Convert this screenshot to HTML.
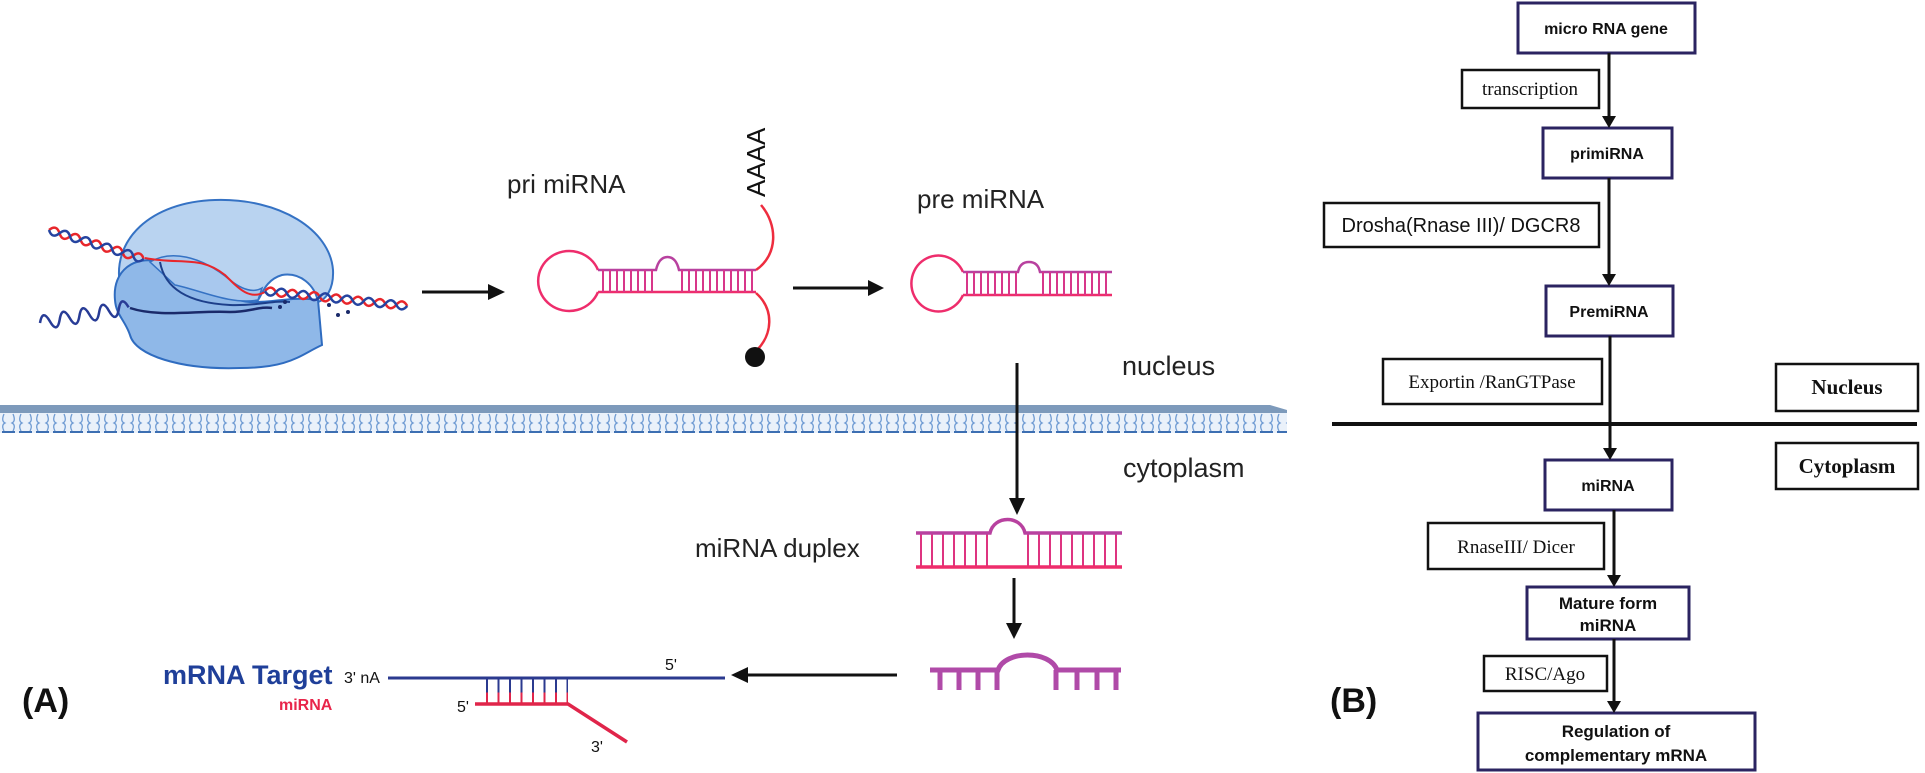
<!DOCTYPE html>
<html><head><meta charset="utf-8">
<style>
html,body{margin:0;padding:0;background:#fff;}
svg{display:block;}
</style></head>
<body>
<svg width="1925" height="773" viewBox="0 0 1925 773" xmlns="http://www.w3.org/2000/svg">
<defs>
<pattern id="mem" x="0" y="412" width="17" height="21" patternUnits="userSpaceOnUse">
<rect width="17" height="21" fill="#eaf1fa"/>
<path d="M4 2 Q1 9 5 11 Q1 13 4 19 M13 2 Q16 9 12 11 Q16 13 13 19" stroke="#6f9bd3" stroke-width="1.3" fill="none"/>
<path d="M2 20 H15" stroke="#3d6fb2" stroke-width="2"/>
</pattern>
</defs>

<!-- Polymerase -->
<path d="M120 285 C112 240 150 202 215 200 C280 198 330 230 333 270 C334 290 325 300 318 302 C315 285 300 272 282 275 C265 280 262 295 258 300 L200 300 Z" fill="#b9d3f0" stroke="#3572c4" stroke-width="2"/>
<path d="M115 300 C112 270 135 255 160 262 C190 270 220 300 250 302 C275 303 290 296 318 300 L322 345 C300 355 290 368 240 368 C180 370 135 355 130 335 C125 320 116 315 115 300 Z" fill="#8fb8e8" stroke="#2f6cc0" stroke-width="2"/>
<path d="M150 262 C170 250 200 255 230 280 C245 292 255 292 262 288 L258 300 C230 305 200 290 175 285 Z" fill="#a8c8ee" stroke="#3572c4" stroke-width="1.5"/>
<path d="M160 262 C165 290 190 303 230 305 C260 306 272 300 290 302" fill="none" stroke="#1d3f8a" stroke-width="2"/>
<g transform="translate(49,230) rotate(17)">
<path d="M0 0 q5.5 -8 11 0 t11 0 t11 0 t11 0 t11 0 t11 0 t11 0 t11 0 t11 0" fill="none" stroke="#e8262b" stroke-width="2.5"/>
<path d="M0 0 q5.5 8 11 0 t11 0 t11 0 t11 0 t11 0 t11 0 t11 0 t11 0 t11 0" fill="none" stroke="#2544a0" stroke-width="2.5"/>
</g>
<path d="M145 258 C180 265 200 255 225 275 C240 290 250 300 265 292" fill="none" stroke="#e8262b" stroke-width="2"/>
<g transform="translate(265,291) rotate(6)">
<path d="M0 0 q5.5 -8 11 0 t11 0 t11 0 t11 0 t11 0 t11 0 t11 0 t11 0 t11 0 t11 0 t11 0 t11 0 t11 0" fill="none" stroke="#e8262b" stroke-width="2.5"/>
<path d="M0 0 q5.5 8 11 0 t11 0 t11 0 t11 0 t11 0 t11 0 t11 0 t11 0 t11 0 t11 0 t11 0 t11 0 t11 0" fill="none" stroke="#2544a0" stroke-width="2.5"/>
</g>
<g transform="translate(40,323) rotate(-10)">
<path d="M0 0 q5 -14 10 0 t10 0 t10 0 t10 0 t10 0 t10 0 t10 0 t10 0 t10 0" fill="none" stroke="#283c96" stroke-width="2.5"/>
</g>
<path d="M130 308 C160 318 200 310 230 312 C250 312 260 306 272 308" fill="none" stroke="#1a2a6a" stroke-width="2.5"/>
<g fill="#1a2a6a"><circle cx="280" cy="307" r="2"/><circle cx="285" cy="302" r="2"/><circle cx="329" cy="305" r="2"/><circle cx="338" cy="315" r="2"/><circle cx="348" cy="312" r="2"/></g>

<line x1="422" y1="292" x2="490" y2="292" stroke="#111" stroke-width="3"/>
<polygon points="488,284 505,292 488,300" fill="#111"/>

<text x="507" y="193" font-family="Liberation Sans, sans-serif" font-size="26" fill="#222">pri miRNA</text>
<path d="M598 270 A31 30 0 1 0 598 292" fill="none" stroke="#ee2d6c" stroke-width="2.5"/>
<path d="M598 270 L656 270 Q659 257 667.5 257 Q676 257 679 270 L756 270" fill="none" stroke="#b8419f" stroke-width="2.5"/>
<line x1="598" y1="292" x2="756" y2="292" stroke="#ee2d6c" stroke-width="2.5"/>
<line x1="602" y1="281" x2="655" y2="281" stroke="#d8368a" stroke-width="22" stroke-dasharray="2 5"/>
<line x1="681" y1="281" x2="756" y2="281" stroke="#d8368a" stroke-width="22" stroke-dasharray="2 5"/>
<text transform="translate(765,197) rotate(-90)" font-family="Liberation Sans, sans-serif" font-size="26" fill="#111">AAAA</text>
<path d="M761 205 C778 225 778 255 756 270" fill="none" stroke="#ee2d3f" stroke-width="2.5"/>
<path d="M756 293 C775 310 772 335 757 350" fill="none" stroke="#ee2d3f" stroke-width="2.5"/>
<circle cx="755" cy="357" r="10" fill="#111"/>

<line x1="793" y1="288" x2="870" y2="288" stroke="#111" stroke-width="3"/>
<polygon points="868,280 884,288 868,296" fill="#111"/>

<text x="917" y="208" font-family="Liberation Sans, sans-serif" font-size="26" fill="#222">pre miRNA</text>
<path d="M963 272 A27 28 0 1 0 963 295" fill="none" stroke="#ee2d6c" stroke-width="2.5"/>
<path d="M963 272 L1018 272 Q1020 262 1029 262 Q1038 262 1040 272 L1112 272" fill="none" stroke="#b8419f" stroke-width="2.5"/>
<line x1="963" y1="295" x2="1112" y2="295" stroke="#ee2d6c" stroke-width="2.5"/>
<line x1="966" y1="283.5" x2="1018" y2="283.5" stroke="#d8368a" stroke-width="23" stroke-dasharray="2 5"/>
<line x1="1042" y1="283.5" x2="1112" y2="283.5" stroke="#d8368a" stroke-width="23" stroke-dasharray="2 5"/>

<text x="1122" y="375" font-family="Liberation Sans, sans-serif" font-size="27" fill="#222">nucleus</text>
<text x="1123" y="477" font-family="Liberation Sans, sans-serif" font-size="27" fill="#222">cytoplasm</text>

<rect x="0" y="412" width="1287" height="21" fill="url(#mem)"/>
<path d="M0 405 L1270 405 L1287 410 L1287 413 L0 413 Z" fill="#7d9abb"/>

<line x1="1017" y1="363" x2="1017" y2="500" stroke="#111" stroke-width="3"/>
<polygon points="1009,498 1017,515 1025,498" fill="#111"/>

<text x="695" y="557" font-family="Liberation Sans, sans-serif" font-size="26" fill="#222">miRNA duplex</text>
<line x1="920" y1="550" x2="990" y2="550" stroke="#de3480" stroke-width="33" stroke-dasharray="2 9"/>
<line x1="1027" y1="550" x2="1122" y2="550" stroke="#de3480" stroke-width="33" stroke-dasharray="2 9"/>
<path d="M916 533 L990 533 C994 515 1021 515 1025 533 L1122 533" fill="none" stroke="#b8419f" stroke-width="3.5"/>
<line x1="916" y1="567" x2="1122" y2="567" stroke="#ee2d6c" stroke-width="3.5"/>

<line x1="1014" y1="578" x2="1014" y2="625" stroke="#111" stroke-width="3"/>
<polygon points="1006,623 1014,639 1022,623" fill="#111"/>

<path d="M930 670 L998 670 C1005 650 1050 650 1057 670 L1121 670" fill="none" stroke="#b04aa8" stroke-width="5"/>
<g stroke="#b04aa8" stroke-width="5">
<line x1="940" y1="670" x2="940" y2="690"/><line x1="959" y1="670" x2="959" y2="690"/><line x1="978" y1="670" x2="978" y2="690"/><line x1="997" y1="670" x2="997" y2="690"/>
<line x1="1056" y1="670" x2="1056" y2="690"/><line x1="1077" y1="670" x2="1077" y2="690"/><line x1="1097" y1="670" x2="1097" y2="690"/><line x1="1116" y1="670" x2="1116" y2="690"/>
</g>

<line x1="897" y1="675" x2="745" y2="675" stroke="#111" stroke-width="3"/>
<polygon points="748,667 731,675 748,683" fill="#111"/>

<text x="163" y="684" font-family="Liberation Sans, sans-serif" font-size="27" font-weight="bold" fill="#1f3f99">mRNA Target</text>
<text x="344" y="683" font-family="Liberation Sans, sans-serif" font-size="16" fill="#111">3' nA</text>
<line x1="388" y1="678" x2="725" y2="678" stroke="#2b3a8f" stroke-width="3"/>
<text x="665" y="670" font-family="Liberation Sans, sans-serif" font-size="16" fill="#111">5'</text>
<text x="279" y="710" font-family="Liberation Sans, sans-serif" font-size="16" font-weight="bold" fill="#e8254a">miRNA</text>
<text x="457" y="712" font-family="Liberation Sans, sans-serif" font-size="16" fill="#111">5'</text>
<path d="M475 704 L568 704 L627 742" fill="none" stroke="#e0254a" stroke-width="3.5"/>
<text x="591" y="752" font-family="Liberation Sans, sans-serif" font-size="16" fill="#111">3'</text>
<line x1="486" y1="691" x2="568" y2="691" stroke="#2b3a8f" stroke-width="24" stroke-dasharray="2 9.5"/>
<line x1="486" y1="698" x2="568" y2="698" stroke="#e0254a" stroke-width="11" stroke-dasharray="2 9.5"/>

<text x="22" y="712" font-family="Liberation Sans, sans-serif" font-size="34" font-weight="bold" fill="#111">(A)</text>
<text x="1330" y="712" font-family="Liberation Sans, sans-serif" font-size="34" font-weight="bold" fill="#111">(B)</text>

<g fill="#fff" stroke="#2b2461" stroke-width="3">
<rect x="1518" y="3" width="177" height="50"/>
<rect x="1543" y="128" width="129" height="50"/>
<rect x="1546" y="286" width="127" height="50"/>
<rect x="1545" y="460" width="127" height="50"/>
<rect x="1527" y="587" width="162" height="52"/>
<rect x="1478" y="713" width="277" height="57"/>
</g>
<g fill="#fff" stroke="#111" stroke-width="2.5">
<rect x="1462" y="70" width="137" height="38"/>
<rect x="1324" y="203" width="275" height="44"/>
<rect x="1383" y="359" width="219" height="45"/>
<rect x="1776" y="364" width="142" height="47"/>
<rect x="1776" y="443" width="142" height="46"/>
<rect x="1428" y="523" width="176" height="46"/>
<rect x="1484" y="656" width="123" height="35"/>
</g>
<line x1="1332" y1="424" x2="1917" y2="424" stroke="#111" stroke-width="4"/>
<g stroke="#111" stroke-width="3">
<line x1="1609" y1="53" x2="1609" y2="118"/>
<line x1="1609" y1="178" x2="1609" y2="276"/>
<line x1="1610" y1="336" x2="1610" y2="450"/>
<line x1="1614" y1="510" x2="1614" y2="577"/>
<line x1="1614" y1="639" x2="1614" y2="703"/>
</g>
<g fill="#111">
<polygon points="1602,116 1609,128 1616,116"/>
<polygon points="1602,274 1609,286 1616,274"/>
<polygon points="1603,448 1610,460 1617,448"/>
<polygon points="1607,575 1614,587 1621,575"/>
<polygon points="1607,701 1614,713 1621,701"/>
</g>
<g font-family="Liberation Sans, sans-serif" font-weight="bold" font-size="16" fill="#111" text-anchor="middle">
<text x="1606" y="34">micro RNA gene</text>
<text x="1607" y="159">primiRNA</text>
<text x="1609" y="317">PremiRNA</text>
<text x="1608" y="491">miRNA</text>
<text x="1608" y="609" font-size="17">Mature form</text>
<text x="1608" y="631" font-size="17">miRNA</text>
<text x="1616" y="737" font-size="17">Regulation of</text>
<text x="1616" y="761" font-size="17">complementary mRNA</text>
</g>
<g font-family="Liberation Serif, serif" font-size="19" fill="#111" text-anchor="middle">
<text x="1530" y="95">transcription</text>
<text x="1492" y="388">Exportin /RanGTPase</text>
<text x="1516" y="553">RnaseIII/ Dicer</text>
<text x="1545" y="680">RISC/Ago</text>
<text x="1847" y="394" font-weight="bold" font-size="21">Nucleus</text>
<text x="1847" y="473" font-weight="bold" font-size="21">Cytoplasm</text>
</g>
<text x="1461" y="232" font-family="Liberation Sans, sans-serif" font-size="20" fill="#111" text-anchor="middle">Drosha(Rnase III)/ DGCR8</text>
</svg>
</body></html>
